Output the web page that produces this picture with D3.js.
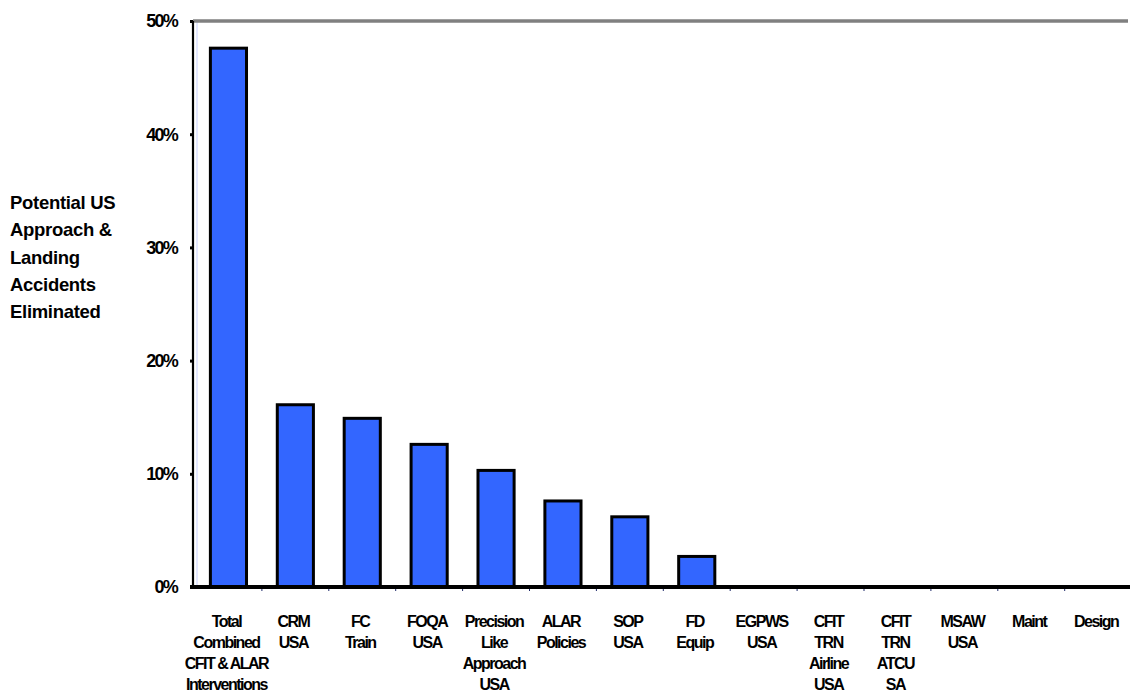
<!DOCTYPE html>
<html>
<head>
<meta charset="utf-8">
<script src="https://cdn.jsdelivr.net/npm/d3@7/dist/d3.min.js"></script>
<style>
  html, body { margin: 0; padding: 0; background: #fff; }
  svg { display: block; font-family: "Liberation Sans", Arial, sans-serif; font-weight: bold; }
</style>
</head>
<body>
<svg id="chart" width="1130" height="694"></svg>
<script>
// Interventions, one label line per "\n"
const categories = [
  "Total\nCombined\nCFIT & ALAR\nInterventions",
  "CRM\nUSA",
  "FC\nTrain",
  "FOQA\nUSA",
  "Precision\nLike\nApproach\nUSA",
  "ALAR\nPolicies",
  "SOP\nUSA",
  "FD\nEquip",
  "EGPWS\nUSA",
  "CFIT\nTRN\nAirline\nUSA",
  "CFIT\nTRN\nATCU\nSA",
  "MSAW\nUSA",
  "Maint",
  "Design"
];
// Share of accidents eliminated, in percent
const values = [47.6, 16.1, 14.9, 12.6, 10.3, 7.6, 6.2, 2.7, 0, 0, 0, 0, 0, 0];
const yTicks = [0, 10, 20, 30, 40, 50];
const yTitle = ["Potential US", "Approach &", "Landing", "Accidents", "Eliminated"];

const svg = d3.select("#chart");
const plotLeft = 193, plotTop = 21, plotBottom = 587, plotRight = 1131.6;

const x = d3.scaleBand().domain(d3.range(categories.length))
  .range([plotLeft + 2, plotRight]).paddingInner(0.46).paddingOuter(0.23);
const y = d3.scaleLinear().domain([0, 50]).range([plotBottom, plotTop]);

// faint inner edge of the plot area
svg.append("line")
  .attr("x1", plotLeft + 4).attr("x2", plotLeft + 4)
  .attr("y1", plotTop).attr("y2", plotBottom)
  .attr("stroke", "#c9d2ff").attr("stroke-width", 1);

// top frame line at 50%
svg.append("line")
  .attr("x1", plotLeft).attr("x2", 1128)
  .attr("y1", y(50)).attr("y2", y(50))
  .attr("stroke", "#808080").attr("stroke-width", 3.5);

// bars
svg.append("g").selectAll("rect")
  .data(values)
  .join("rect")
  .attr("x", (d, i) => x(i))
  .attr("width", x.bandwidth())
  .attr("y", d => y(d))
  .attr("height", d => y(0) - y(d))
  .attr("fill", "#3366ff")
  .attr("stroke", "#000")
  .attr("stroke-width", 3)
  .attr("display", d => d > 0 ? null : "none");

// y axis
const yAxis = d3.axisLeft(y).tickValues(yTicks).tickSize(3).tickFormat("");
const gy = svg.append("g").attr("transform", `translate(${plotLeft},0)`).call(yAxis);
gy.select(".domain").attr("stroke", "#000").attr("stroke-width", 2.2)
  .attr("d", `M0,${plotTop}V${plotBottom}`);
gy.selectAll(".tick line").attr("stroke", "#000").attr("stroke-width", 3);

// y tick labels, tightly set
svg.append("g").selectAll("text")
  .data(yTicks)
  .join("text")
  .attr("x", 177)
  .attr("y", d => y(d))
  .attr("dy", "0.36em")
  .attr("text-anchor", "end")
  .attr("font-size", 18)
  .attr("letter-spacing", -1.8)
  .attr("fill", "#000")
  .text(d => d + "%");

// category tick marks under the baseline
svg.append("g").selectAll("line")
  .data(d3.range(1, categories.length))
  .join("line")
  .attr("x1", i => x(i) - x.step() * x.paddingInner() / 2)
  .attr("x2", i => x(i) - x.step() * x.paddingInner() / 2)
  .attr("y1", plotBottom).attr("y2", plotBottom + 4)
  .attr("stroke", "#1f2a6b").attr("stroke-width", 1);

// baseline
svg.append("line")
  .attr("x1", plotLeft - 3).attr("x2", 1130)
  .attr("y1", plotBottom).attr("y2", plotBottom)
  .attr("stroke", "#000").attr("stroke-width", 4);

// x labels
svg.append("g").selectAll("text")
  .data(categories)
  .join("text")
  .attr("text-anchor", "middle")
  .attr("font-size", 16)
  .attr("letter-spacing", -1.5)
  .attr("fill", "#000")
  .each(function (d, i) {
    const t = d3.select(this);
    d.split("\n").forEach((line, j) => {
      t.append("tspan")
        .attr("x", x(i) + x.bandwidth() / 2 - 2)
        .attr("y", 627 + j * 21)
        .text(line);
    });
  });

// y title
svg.append("text")
  .attr("font-size", 18.5)
  .attr("letter-spacing", -0.3)
  .attr("fill", "#000")
  .selectAll("tspan")
  .data(yTitle)
  .join("tspan")
  .attr("x", 10)
  .attr("y", (d, i) => 209 + i * 27.3)
  .text(d => d);
</script>
</body>
</html>
